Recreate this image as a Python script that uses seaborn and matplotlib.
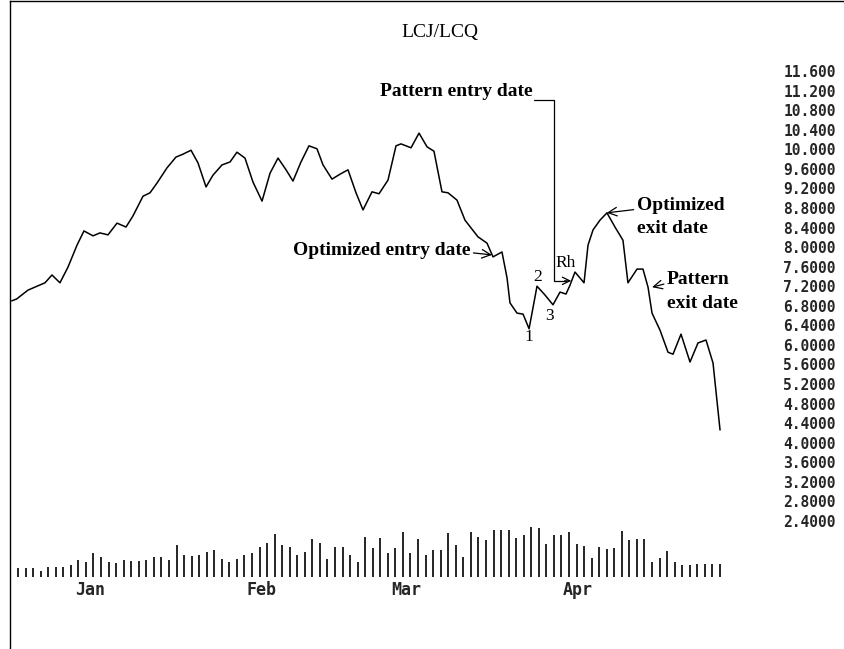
import matplotlib
matplotlib.use("Agg")
import matplotlib.pyplot as plt
import seaborn as sns

# --- data ---
title = "LCJ/LCQ"

# closing prices, x = trading day index
line_days = [-0.83, -0.17, 1.32, 2.52, 3.58, 4.50, 5.56, 6.62, 7.82, 8.74,
             9.94, 10.86, 11.92, 13.12, 14.31, 15.24, 16.56, 17.49, 18.42, 19.74,
             20.93, 21.86, 22.92, 23.85, 24.91, 25.83, 27.03, 28.09, 29.01, 30.07,
             31.13, 32.33, 33.39, 34.45, 35.51, 36.43, 37.49, 38.55, 39.61, 40.41,
             41.60, 42.66, 43.72, 44.78, 45.71, 46.90, 47.83, 49.02, 50.08, 50.74,
             52.07, 53.13, 54.19, 55.11, 56.17, 56.97, 58.16, 59.22, 60.94, 62.14,
             62.93, 64.12, 64.79, 65.18, 66.11, 66.91, 67.71, 68.76, 69.82, 70.88,
             71.81, 72.60, 73.13, 73.79, 74.99, 75.52, 76.18, 77.10, 78.03, 79.09,
             80.15, 80.81, 82.01, 82.80, 83.47, 84.00, 85.06, 86.12, 86.78, 87.84,
             89.03, 90.09, 91.15, 92.08, 93.01]
line_prices = [6.90, 6.94, 7.12, 7.20, 7.27, 7.43, 7.27, 7.59, 8.04, 8.33,
               8.23, 8.29, 8.25, 8.49, 8.41, 8.64, 9.04, 9.11, 9.31, 9.62,
               9.84, 9.90, 9.98, 9.72, 9.23, 9.47, 9.68, 9.74, 9.94, 9.82,
               9.33, 8.94, 9.51, 9.82, 9.58, 9.35, 9.74, 10.07, 10.01, 9.68,
               9.39, 9.49, 9.58, 9.11, 8.76, 9.13, 9.09, 9.37, 10.07, 10.11,
               10.03, 10.33, 10.05, 9.96, 9.13, 9.11, 8.96, 8.55, 8.21, 8.08,
               7.80, 7.90, 7.37, 6.86, 6.65, 6.63, 6.33, 7.20, 7.02, 6.82,
               7.08, 7.04, 7.22, 7.49, 7.27, 8.04, 8.35, 8.55, 8.70, 8.41,
               8.14, 7.27, 7.55, 7.55, 7.18, 6.65, 6.30, 5.85, 5.81, 6.22,
               5.65, 6.04, 6.10, 5.63, 4.26]

# daily volume (arbitrary units)
volume_days = list(range(94))
volumes = [9, 9, 9, 6, 10, 10, 10, 12, 17, 15, 24, 20, 15, 14, 17, 16, 16, 17, 20, 20,
           17, 32, 22, 21, 22, 25, 27, 18, 15, 18, 22, 24, 30, 34, 43, 32, 30, 22, 25, 38,
           34, 18, 30, 30, 22, 15, 40, 29, 39, 24, 29, 45, 24, 38, 22, 27, 27, 44, 32, 20,
           45, 40, 37, 47, 47, 47, 39, 42, 50, 49, 33, 42, 42, 45, 33, 31, 19, 30, 28, 29,
           46, 37, 38, 38, 15, 19, 26, 15, 12, 12, 13, 13, 13, 13]

month_ticks = [9.5, 32.2, 51.5, 74.2]
month_labels = ["Jan", "Feb", "Mar", "Apr"]

price_ticks = [2.4, 2.8, 3.2, 3.6, 4.0, 4.4, 4.8, 5.2, 5.6, 6.0, 6.4, 6.8,
               7.2, 7.6, 8.0, 8.4, 8.8, 9.2, 9.6, 10.0, 10.4, 10.8, 11.2, 11.6]


def price_label(v):
    s = f"{v:.4f}"
    return s if len(s) <= 6 else f"{v:.3f}"


W, H = 845, 649


def box(x0, y0, x1, y1):
    # pixel box -> figure fraction [left, bottom, width, height]
    return [x0 / W, 1 - y1 / H, (x1 - x0) / W, (y1 - y0) / H]


sns.set_theme(style="white")
mono = {"family": "DejaVu Sans Mono", "weight": "bold"}
serif = "Liberation Serif"

fig = plt.figure(figsize=(W / 100, H / 100), dpi=100)
fig.patch.set_facecolor("white")

# outer frame: only left and top edges show
frame = fig.add_axes(box(10, 1, W + 5, H + 5))
frame.set_xticks([])
frame.set_yticks([])
frame.patch.set_alpha(0)
for side in ["right", "bottom"]:
    frame.spines[side].set_visible(False)
for side in ["left", "top"]:
    frame.spines[side].set_color("black")
    frame.spines[side].set_linewidth(1.0)

# x scale: day 0 sits at x=18 px, 7.548 px per day
x_lim = ((10 - 18) / 7.548, (775 - 18) / 7.548)

# --- price panel ---
ax = fig.add_axes(box(10, 71, 775, 521))
ax.patch.set_alpha(0)
sns.lineplot(x=line_days, y=line_prices, ax=ax, color="black", linewidth=1.1,
             sort=False, estimator=None)
ax.set_xlim(*x_lim)
ax.set_ylim(2.4, 11.6)
ax.set_xticks([])
ax.yaxis.tick_right()
ax.set_yticks(price_ticks)
ax.set_yticklabels([price_label(v) for v in price_ticks], fontdict=dict(mono, size=10.5))
ax.tick_params(axis="y", length=0, pad=6)
ax.set_xlabel("")
ax.set_ylabel("")
for s in ax.spines.values():
    s.set_visible(False)

# annotations
arrow = dict(arrowstyle="->,head_length=0.45,head_width=0.22", color="black",
             lw=0.9, shrinkA=0, shrinkB=0)
bold = dict(family=serif, weight="bold", size=14, color="black")
plain = dict(family=serif, size=12.5, color="black")

ax.text(68.2, 11.19, "Pattern entry date", ha="right", va="center", **bold)
ax.plot([68.3, 71.0, 71.0, 72.6], [11.01, 11.01, 7.31, 7.31], color="black", lw=0.9)
ax.annotate("", xy=(73.3, 7.31), xytext=(72.4, 7.31), arrowprops=arrow)

ax.annotate("Optimized entry date", xy=(62.8, 7.84), xytext=(59.9, 7.94),
            ha="right", va="center", arrowprops=dict(arrow, relpos=(1.0, 0.35)), **bold)
ax.annotate("Optimized", xy=(78.0, 8.70), xytext=(82.0, 8.86),
            ha="left", va="center", arrowprops=dict(arrow, relpos=(0.0, 0.25)), **bold)
ax.text(82.0, 8.39, "exit date", ha="left", va="center", **bold)
ax.annotate("Pattern", xy=(84.0, 7.18), xytext=(86.0, 7.33),
            ha="left", va="center", arrowprops=dict(arrow, relpos=(0.0, 0.3)), **bold)
ax.text(86.0, 6.84, "exit date", ha="left", va="center", **bold)

ax.text(72.5, 7.67, "Rh", ha="center", va="center", **plain)
ax.text(67.7, 6.16, "1", ha="center", va="center", **plain)
ax.text(68.8, 7.39, "2", ha="center", va="center", **plain)
ax.text(70.4, 6.59, "3", ha="center", va="center", **plain)

fig.text(440 / W, 1 - 33 / H, title, ha="center", va="center",
         family=serif, size=14, color="black")

# --- volume panel ---
axv = fig.add_axes(box(10, 520, 775, 577))
axv.patch.set_alpha(0)
axv.vlines(volume_days, 0, volumes, color="black", linewidth=1.2)
axv.set_xlim(*x_lim)
axv.set_ylim(0, 57)
axv.set_yticks([])
axv.set_xticks(month_ticks)
axv.set_xticklabels(month_labels, fontdict=dict(mono, size=12))
axv.tick_params(axis="x", length=0, pad=3)
for s in axv.spines.values():
    s.set_visible(False)

fig.savefig("out.png", dpi=100)
